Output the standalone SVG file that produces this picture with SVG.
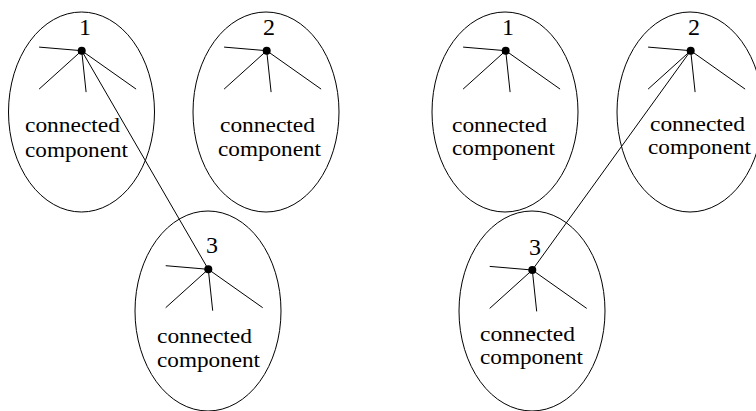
<svg xmlns="http://www.w3.org/2000/svg" width="756" height="411" viewBox="0 0 756 411">
<style>
.ell{fill:none;stroke:#000;stroke-width:1}
.sp{stroke:#000;stroke-width:1}
.dot{fill:#000}
.lbl{font-family:"Liberation Serif","DejaVu Serif",serif;font-size:24px;fill:#000;text-anchor:middle}
.txt{font-family:"Liberation Serif","DejaVu Serif",serif;font-size:21px;fill:#000}
.con{stroke:#000;stroke-width:1;fill:none}
</style>
<defs>
<g id="star">
<line class="sp" x1="0" y1="0" x2="-42.6" y2="-3.6"/>
<line class="sp" x1="0" y1="0" x2="-42.6" y2="38.4"/>
<line class="sp" x1="0" y1="0" x2="4.4" y2="41.4"/>
<line class="sp" x1="0" y1="0" x2="54.4" y2="38.4"/>
<circle class="dot" r="4"/>
</g>
</defs>
<g id="connectors">
<line class="con" x1="81.7" y1="50.7" x2="208.3" y2="269.3"/>
<line class="con" x1="690.7" y1="50.7" x2="532.3" y2="270"/>
</g>
<g id="L1">
<ellipse class="ell" cx="81.5" cy="112" rx="73" ry="100"/>
<use href="#star" x="81.7" y="50.7"/>
<text class="lbl" x="85" y="35">1</text>
<text class="txt" x="25" y="132" textLength="95" lengthAdjust="spacingAndGlyphs">connected</text>
<text class="txt" x="25" y="157" textLength="103" lengthAdjust="spacingAndGlyphs">component</text>
</g>
<g id="L2">
<ellipse class="ell" cx="266" cy="112" rx="73" ry="100"/>
<use href="#star" x="266.7" y="50.7"/>
<text class="lbl" x="269" y="35">2</text>
<text class="txt" x="220" y="132" textLength="95" lengthAdjust="spacingAndGlyphs">connected</text>
<text class="txt" x="218" y="156" textLength="103" lengthAdjust="spacingAndGlyphs">component</text>
</g>
<g id="L3">
<ellipse class="ell" cx="208" cy="311" rx="73" ry="100"/>
<use href="#star" x="208.3" y="269.3"/>
<text class="lbl" x="212" y="253">3</text>
<text class="txt" x="157" y="343" textLength="95" lengthAdjust="spacingAndGlyphs">connected</text>
<text class="txt" x="157" y="367" textLength="103" lengthAdjust="spacingAndGlyphs">component</text>
</g>
<g id="R1">
<ellipse class="ell" cx="505" cy="112" rx="73" ry="100"/>
<use href="#star" x="505.7" y="50.7"/>
<text class="lbl" x="508" y="35">1</text>
<text class="txt" x="452" y="132" textLength="95" lengthAdjust="spacingAndGlyphs">connected</text>
<text class="txt" x="452" y="155" textLength="103" lengthAdjust="spacingAndGlyphs">component</text>
</g>
<g id="R2">
<ellipse class="ell" cx="690" cy="112" rx="73" ry="100"/>
<use href="#star" x="690.7" y="50.7"/>
<text class="lbl" x="694" y="35">2</text>
<text class="txt" x="650" y="131" textLength="95" lengthAdjust="spacingAndGlyphs">connected</text>
<text class="txt" x="648" y="154" textLength="103" lengthAdjust="spacingAndGlyphs">component</text>
</g>
<g id="R3">
<ellipse class="ell" cx="532" cy="311" rx="73" ry="100"/>
<use href="#star" x="532.3" y="270"/>
<text class="lbl" x="535" y="255">3</text>
<text class="txt" x="480" y="341" textLength="95" lengthAdjust="spacingAndGlyphs">connected</text>
<text class="txt" x="480" y="364" textLength="103" lengthAdjust="spacingAndGlyphs">component</text>
</g>
</svg>
